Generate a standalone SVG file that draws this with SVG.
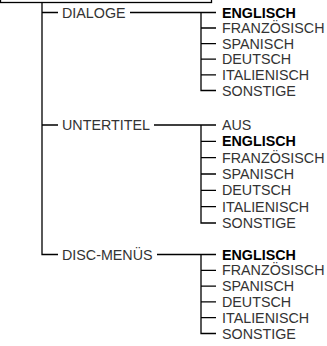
<svg xmlns="http://www.w3.org/2000/svg" width="327" height="346" viewBox="0 0 327 346">
<style>
.t{font-family:"Liberation Sans",Arial,sans-serif;font-size:14.3px;fill:#333}
.b{font-weight:bold;fill:#000}
.c{stroke:#000;stroke-width:1.3;fill:none}
</style>
<rect x="0.5" y="-10" width="211" height="12.5" fill="none" stroke="#000" stroke-width="1.3"/>
<g id="connectors" class="c">
<path d="M42,2.5V254.5H58M42,12.5H58M42,125H58"/>
<path d="M130,12.5H216M201,12.5V90.5H216M201,28H216M201,43.6H216M201,59.2H216M201,74.8H216"/>
<path d="M154,125H216M201,125V223H216M201,141.3H216M201,157.6H216M201,174H216M201,190.3H216M201,206.7H216"/>
<path d="M157,254.5H216M201,254.5V333.5H216M201,270.3H216M201,286.1H216M201,301.9H216M201,317.7H216"/>
</g>
<g id="dialoge"><text class="t" x="62" y="17.6">DIALOGE</text></g>
<g id="untertitel"><text class="t" x="62" y="130.1">UNTERTITEL</text></g>
<g id="discmenus"><text class="t" x="62" y="259.6">DISC-MENÜS</text></g>
<g id="dialoge-list">
<text class="t b" x="222" y="17.6">ENGLISCH</text>
<text class="t" x="222" y="33.1">FRANZÖSISCH</text>
<text class="t" x="222" y="48.7">SPANISCH</text>
<text class="t" x="222" y="64.3">DEUTSCH</text>
<text class="t" x="222" y="79.9">ITALIENISCH</text>
<text class="t" x="222" y="95.6">SONSTIGE</text>
</g>
<g id="untertitel-list">
<text class="t" x="222" y="130.1">AUS</text>
<text class="t b" x="222" y="146.4">ENGLISCH</text>
<text class="t" x="222" y="162.7">FRANZÖSISCH</text>
<text class="t" x="222" y="179.1">SPANISCH</text>
<text class="t" x="222" y="195.4">DEUTSCH</text>
<text class="t" x="222" y="211.8">ITALIENISCH</text>
<text class="t" x="222" y="228.1">SONSTIGE</text>
</g>
<g id="discmenus-list">
<text class="t b" x="222" y="259.6">ENGLISCH</text>
<text class="t" x="222" y="275.4">FRANZÖSISCH</text>
<text class="t" x="222" y="291.2">SPANISCH</text>
<text class="t" x="222" y="307">DEUTSCH</text>
<text class="t" x="222" y="322.8">ITALIENISCH</text>
<text class="t" x="222" y="338.6">SONSTIGE</text>
</g>
</svg>
